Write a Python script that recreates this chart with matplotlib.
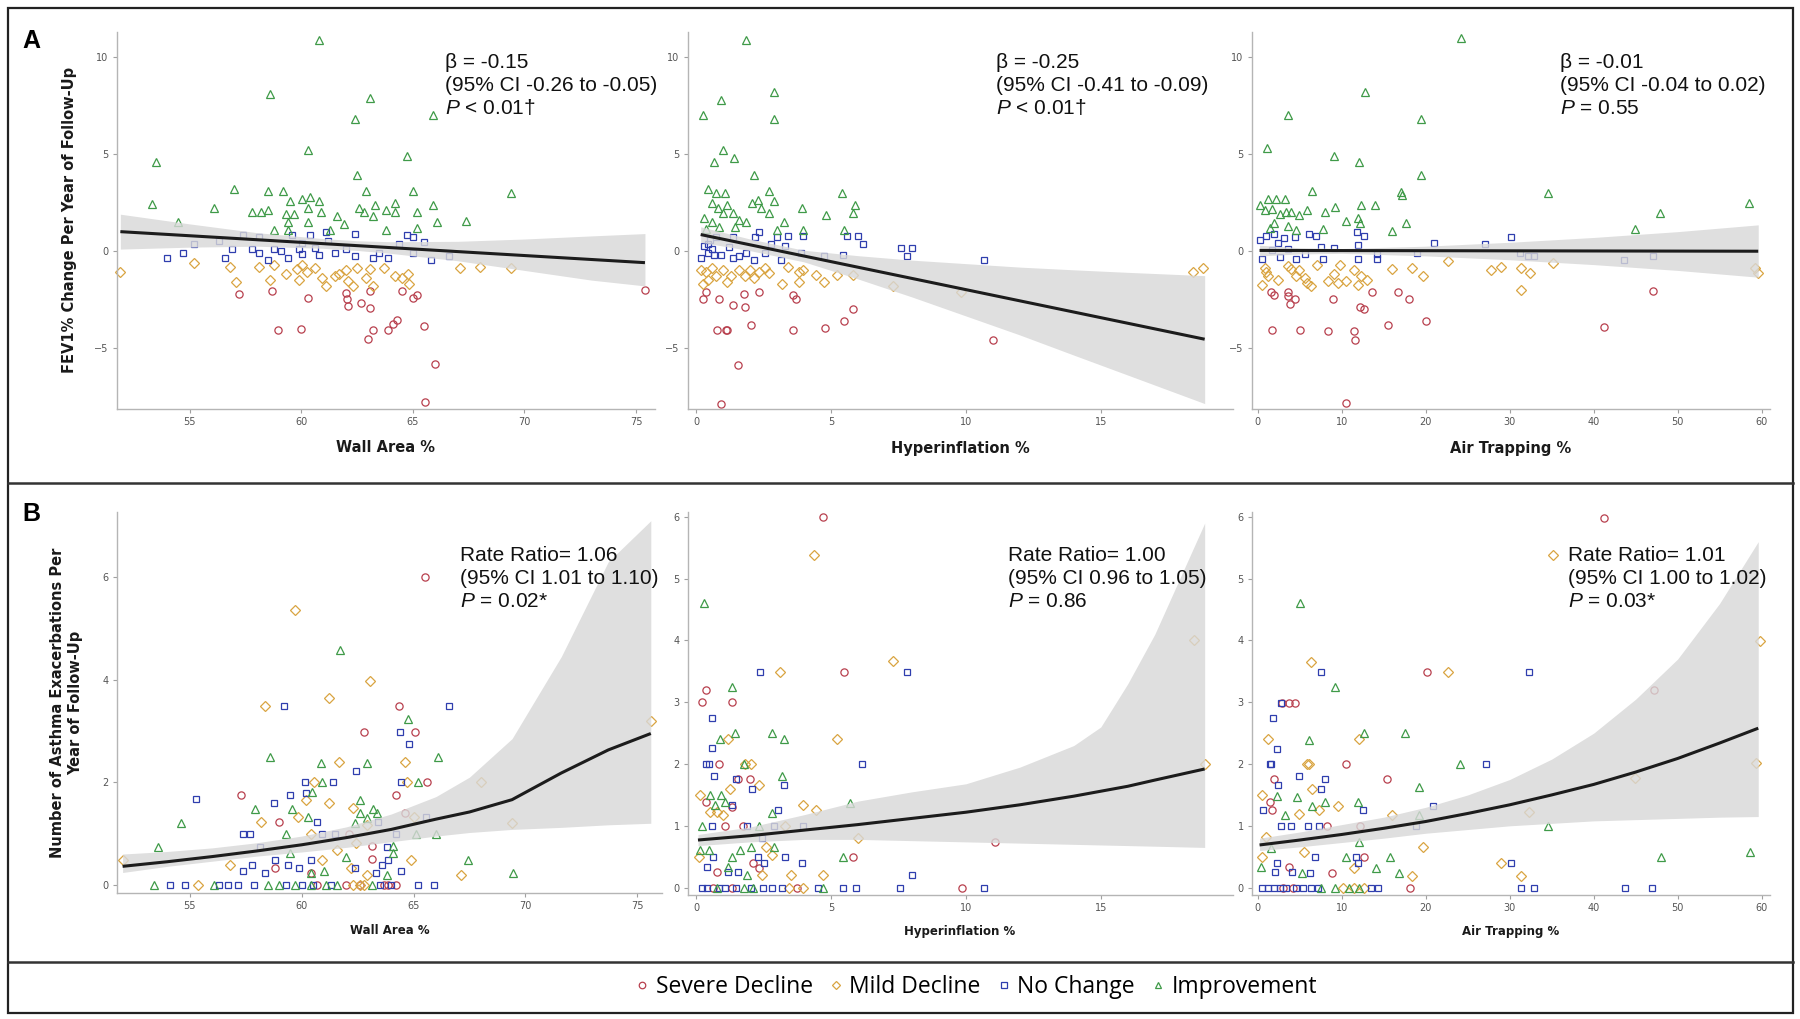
import matplotlib
matplotlib.use("Agg")
import matplotlib.pyplot as plt
from matplotlib.lines import Line2D
from matplotlib.patches import Rectangle

plt.rcParams['mathtext.fontset'] = 'custom'
plt.rcParams['mathtext.it'] = 'Liberation Sans:italic'
plt.rcParams['mathtext.rm'] = 'Liberation Sans'

# ---------------- DATA ----------------
categories = ["Severe Decline", "Mild Decline", "No Change", "Improvement"]

# Panel A1: Wall Area % vs FEV1% change
A1_severe = [(57.2,-2.2),(58.7,-2.05),(58.95,-4.05),(60.0,-4.0),(60.3,-2.4),(62.0,-2.15),(62.05,-2.45),(62.1,-2.85),
             (62.7,-2.7),(63.1,-2.95),(63.1,-2.05),(63.2,-4.1),(63.0,-4.55),(63.9,-4.05),(64.1,-3.75),(64.3,-3.55),
             (64.5,-2.05),(65.0,-2.4),(65.2,-2.25),(65.5,-3.85),(66.0,-5.85),(65.55,-7.8),(75.4,-2.0)]
A1_mild = [(51.9,-1.1),(55.2,-0.6),(56.8,-0.8),(57.1,-1.6),(58.1,-0.8),(58.6,-1.5),(58.8,-0.7),(59.8,-0.95),(59.9,-1.5),
           (60.05,-0.7),(60.25,-1.1),(60.6,-0.9),(60.95,-1.4),(61.1,-1.8),(61.5,-1.3),(62.0,-1.0),(62.1,-1.55),(62.3,-1.8),
           (62.5,-0.85),(62.9,-1.4),(63.1,-0.95),(63.2,-1.8),(63.7,-0.85),(64.2,-1.3),(64.5,-1.4),(64.8,-1.2),(64.85,-1.7),
           (67.1,-0.85),(68.0,-0.8),(69.4,-0.85),(59.3,-1.2),(61.7,-1.2)]
A1_nochange = [(54.0,-0.35),(54.7,-0.1),(55.2,0.35),(56.3,0.5),(56.6,-0.35),(56.9,0.1),(57.4,0.85),(57.8,0.1),(58.1,0.7),
               (58.1,-0.1),(58.5,-0.45),(58.8,0.1),(59.1,0.0),(59.4,-0.35),(59.6,0.85),(59.9,0.1),(60.05,-0.15),(60.4,0.85),
               (60.6,0.15),(60.8,-0.2),(61.1,1.0),(61.2,0.5),(61.5,-0.1),(62.0,0.1),(62.4,0.9),(62.4,-0.25),(63.2,-0.35),
               (63.5,-0.1),(63.9,-0.35),(64.4,0.35),(64.75,0.85),(65.0,-0.1),(65.5,0.45),(65.8,-0.45),(66.6,-0.25),
               (60.05,0.4),(65.0,0.7)]
A1_improve = [(60.8,10.9),(58.6,8.1),(63.1,7.9),(62.4,6.8),(65.9,7.0),(53.5,4.6),(60.3,5.2),(64.75,4.9),(53.3,2.45),
              (54.5,1.5),(56.1,2.2),(57.0,3.2),(58.5,3.1),(59.2,3.1),(59.5,2.6),(60.05,2.7),(60.4,2.8),(60.8,2.6),
              (60.3,2.2),(57.8,2.0),(58.2,2.0),(58.5,2.1),(59.3,1.9),(59.7,1.9),(60.9,2.0),(61.6,1.8),(62.5,3.9),
              (62.9,3.1),(63.3,2.4),(62.6,2.2),(62.8,2.0),(63.2,1.8),(63.8,2.1),(64.2,2.5),(64.2,2.0),(65.0,3.1),
              (65.2,2.0),(65.9,2.4),(66.1,1.5),(67.4,1.55),(69.4,3.0),(59.4,1.5),(60.3,1.5),(61.3,1.1),(61.9,1.4),
              (63.8,1.1),(65.2,1.2),(58.8,1.1),(59.4,1.1)]
A1_fit_x = [51.9, 75.4]
A1_fit_y = [1.0, -0.6]
A1_band_x = [51.9, 55, 58, 61, 62.5, 64, 67, 70, 73, 75.4]
A1_band_lo = [0.1, 0.2, 0.25, 0.14, 0.03, -0.12, -0.5, -1.0, -1.5, -1.8]
A1_band_hi = [1.9, 1.4, 0.95, 0.64, 0.53, 0.48, 0.5, 0.62, 0.78, 0.9]

# Panel A2: Hyperinflation % vs FEV1% change
A2_severe = [(0.24,-2.5),(0.38,-2.1),(0.85,-2.45),(0.76,-4.1),(1.1,-4.1),(1.15,-4.05),(1.37,-2.8),(1.54,-5.9),(0.92,-7.9),
             (1.76,-2.2),(1.8,-2.9),(2.04,-3.8),(2.32,-2.1),(3.6,-2.25),(3.7,-2.5),(3.6,-4.1),(4.76,-3.95),(5.5,-3.6),
             (5.8,-3.0),(11.0,-4.6)]
A2_mild = [(0.2,-1.0),(0.38,-1.06),(0.6,-0.9),(0.24,-1.7),(0.73,-1.3),(1.0,-1.0),(1.3,-1.3),(1.58,-1.0),(1.8,-1.3),
           (2.0,-1.0),(2.14,-1.4),(2.35,-1.06),(2.56,-0.9),(2.7,-1.15),(3.2,-1.7),(3.4,-0.8),(3.83,-1.06),(3.97,-1.0),
           (3.8,-1.6),(4.45,-1.24),(4.75,-1.6),(5.24,-1.24),(5.8,-1.24),(7.3,-1.8),(9.8,-2.1),(18.4,-1.1),(18.8,-0.85),
           (1.15,-1.6),(0.45,-1.5)]
A2_nochange = [(0.2,-0.35),(0.3,0.27),(0.45,-0.1),(0.6,0.1),(0.66,-0.2),(0.5,0.55),(0.73,0.7),(0.94,-0.2),(1.22,0.2),
               (1.37,0.7),(1.37,-0.35),(1.58,-0.27),(1.86,-0.1),(2.14,-0.45),(2.2,0.7),(2.35,1.0),(2.56,-0.1),(2.77,0.35),
               (2.99,0.7),(3.13,-0.45),(3.3,0.27),(3.4,0.8),(3.9,-0.1),(3.97,0.75),(4.75,-0.27),(5.45,-0.18),(5.6,0.8),
               (6.0,0.8),(6.2,0.35),(7.6,0.14),(8.0,0.14),(7.8,-0.27),(10.66,-0.45),(0.45,0.35)]
A2_improve = [(1.86,10.9),(2.87,8.2),(0.92,7.8),(0.27,7.0),(2.9,6.8),(1.0,5.2),(0.66,4.6),(1.4,4.8),(2.14,3.9),(2.7,3.1),
              (5.4,3.0),(0.45,3.2),(0.73,3.0),(1.08,3.0),(2.9,2.6),(5.9,2.35),(3.94,2.2),(0.6,2.5),(0.8,2.2),(1.15,2.4),
              (2.07,2.5),(2.3,2.65),(2.4,2.2),(2.7,1.95),(1.37,1.95),(1.0,1.95),(4.8,1.85),(5.8,1.95),(0.3,1.7),(0.6,1.5),
              (1.58,1.6),(1.86,1.5),(3.27,1.5),(0.85,1.25),(0.38,1.15),(2.99,1.06),(3.97,1.06),(5.5,1.06),(1.44,1.25)]
A2_fit_x = [0.17, 18.85]
A2_fit_y = [0.85, -4.55]
A2_band_x = [0.17, 2, 4, 6, 8, 10, 12, 14, 16, 18.85]
A2_band_lo = [0.45, 0.02, -0.56, -1.44, -2.37, -3.35, -4.33, -5.37, -6.4, -7.87]
A2_band_hi = [1.25, 0.62, 0.04, -0.24, -0.47, -0.65, -0.83, -0.97, -1.1, -1.27]

# Panel A3: Air Trapping % vs FEV1% change
A3_severe = [(1.6,-2.1),(1.9,-2.25),(1.7,-4.1),(3.55,-2.1),(3.6,-2.3),(3.8,-2.75),(4.4,-2.5),(5.0,-4.1),(8.3,-4.15),
             (8.9,-2.45),(11.5,-4.15),(11.6,-4.6),(10.5,-7.85),(12.2,-2.9),(12.7,-3.0),(13.6,-2.1),(15.5,-3.8),
             (16.7,-2.1),(18.0,-2.5),(20.0,-3.6),(41.2,-3.9),(47.1,-2.05)]
A3_mild = [(0.45,-1.75),(0.8,-0.85),(1.0,-1.1),(1.25,-1.3),(2.4,-1.5),(3.55,-0.75),(4.0,-0.95),(4.5,-1.3),(4.9,-1.0),
           (5.6,-1.4),(5.9,-1.65),(6.3,-1.8),(7.0,-0.7),(8.4,-1.55),(9.1,-1.2),(9.8,-0.7),(9.55,-1.65),(10.5,-1.55),
           (11.4,-1.0),(11.9,-1.75),(12.3,-1.3),(13.0,-1.5),(16.0,-0.95),(18.3,-0.9),(19.7,-1.3),(22.7,-0.5),
           (27.8,-1.0),(29.0,-0.8),(31.3,-0.9),(32.4,-1.15),(31.4,-2.0),(35.2,-0.6),(59.2,-0.85),(59.6,-1.15)]
A3_nochange = [(0.3,0.55),(0.55,-0.4),(1.0,0.75),(1.7,0.05),(1.9,0.9),(2.4,0.4),(2.6,-0.3),(3.1,0.65),(3.55,0.1),
               (4.4,0.7),(4.5,-0.4),(5.6,-0.15),(6.1,0.9),(6.9,0.8),(7.5,0.2),(7.7,-0.4),(9.1,0.17),(11.8,1.0),
               (11.9,0.3),(11.9,-0.4),(12.6,0.75),(14.2,-0.4),(14.2,-0.15),(21.0,0.4),(18.9,-0.1),(27.1,0.35),
               (30.2,0.7),(31.2,-0.1),(32.2,-0.25),(32.9,-0.25),(43.6,-0.45),(47.1,-0.25)]
A3_improve = [(24.2,11.0),(12.8,8.2),(3.6,7.0),(19.4,6.8),(1.1,5.3),(9.05,4.9),(12.1,4.6),(19.4,3.9),(6.5,3.1),
              (17.0,3.05),(17.2,2.9),(34.5,3.0),(58.5,2.5),(47.9,1.95),(44.9,1.15),(0.3,2.4),(1.25,2.7),(2.2,2.7),
              (3.2,2.7),(0.8,2.1),(1.7,2.15),(2.6,1.9),(3.3,2.0),(4.0,2.0),(4.9,1.85),(5.9,2.1),(7.95,2.0),(9.2,2.25),
              (12.3,2.4),(14.0,2.35),(11.9,1.7),(10.5,1.55),(17.6,1.45),(16.0,1.05),(12.2,1.45),(7.7,1.15),(4.6,1.1),
              (1.9,1.45),(1.5,1.2),(3.6,1.3)]
A3_fit_x = [0.2, 59.6]
A3_fit_y = [0.03, -0.01]
A3_band_x = [0.2, 5, 10, 20, 30, 40, 50, 59.6]
A3_band_lo = [-0.25, -0.15, -0.12, -0.25, -0.45, -0.7, -1.0, -1.35]
A3_band_hi = [0.3, 0.17, 0.13, 0.25, 0.45, 0.7, 1.0, 1.35]

# Panel B1: Wall Area % vs exacerbations
B1_severe = [(65.5,6.0),(57.3,1.75),(59.0,1.23),(62.8,2.97),(64.35,3.49),(65.05,2.97),(65.6,2.0),(64.2,1.75),(64.6,1.4),
             (58.8,0.32),(62.1,1.0),(63.15,0.75),(63.15,0.5),(60.4,0.23),(63.85,0.0),(62.6,0.0),(60.7,0.0),(62.0,0.0),
             (64.2,0.0),(63.7,0.0)]
B1_mild = [(59.7,5.36),(63.05,3.97),(61.2,3.64),(58.35,3.49),(61.65,2.39),(64.6,2.39),(60.55,2.0),(64.7,2.0),(60.2,1.66),
           (61.2,1.6),(62.3,1.5),(58.2,1.23),(59.85,1.33),(62.9,1.17),(65.0,1.33),(60.4,1.0),(61.6,0.68),(62.45,0.81),
           (52.0,0.49),(56.8,0.39),(60.9,0.49),(62.2,0.32),(64.9,0.49),(67.1,0.2),(62.9,0.2),(55.35,0.0),(68.0,2.0),
           (69.4,1.2),(62.6,0.0),(62.3,0.0),(62.8,0.0),(75.6,3.2)]
B1_nochange = [(59.2,3.49),(66.6,3.49),(64.4,2.97),(64.8,2.75),(62.45,2.22),(60.15,2.0),(61.4,2.0),(64.45,2.0),(55.3,1.67),
               (59.5,1.75),(60.2,1.79),(58.75,1.6),(60.7,1.23),(63.4,1.23),(65.55,1.33),(57.4,1.0),(57.7,1.0),(60.9,1.0),
               (61.5,1.0),(64.2,1.0),(58.15,0.73),(63.8,0.73),(58.8,0.49),(59.4,0.39),(60.4,0.49),(57.8,0.39),(57.4,0.26),
               (58.35,0.23),(59.9,0.32),(62.4,0.32),(63.6,0.39),(63.85,0.49),(64.45,0.26),(63.3,0.23),
               (54.1,0.0),(54.8,0.0),(56.3,0.0),(56.7,0.0),(57.15,0.0),(57.85,0.0),(59.3,0.0),(60.0,0.0),(60.5,0.0),
               (61.3,0.0),(63.5,0.0),(64.0,0.0),(65.2,0.0),(65.9,0.0)]
B1_improve = [(61.7,4.58),(64.75,3.23),(58.6,2.49),(60.85,2.38),(62.9,2.38),(66.1,2.49),(60.9,2.0),(65.2,2.0),(60.45,1.8),
              (57.9,1.48),(59.55,1.48),(62.6,1.66),(63.2,1.48),(60.3,1.33),(62.6,1.4),(62.9,1.3),(63.35,1.4),(54.6,1.2),
              (62.4,1.2),(59.3,1.0),(65.1,1.0),(66.0,1.0),(53.6,0.73),(59.5,0.62),(64.1,0.75),(64.1,0.62),(62.0,0.55),
              (61.0,0.26),(67.45,0.49),(69.45,0.23),(63.8,0.2),(60.4,0.23),
              (53.4,0.0),(56.1,0.0),(58.5,0.0),(59.0,0.0),(59.7,0.0),(60.4,0.0),(61.1,0.0),(61.6,0.0),(63.15,0.0)]
B1_fit_x = [52.0, 54, 56, 58, 60, 62, 64, 66, 67.5, 69.4, 71.6, 73.7, 75.6]
B1_fit_y = [0.36, 0.45, 0.55, 0.66, 0.78, 0.92, 1.08, 1.28, 1.42, 1.66, 2.18, 2.63, 2.95]
B1_band_lo = [0.24, 0.36, 0.46, 0.56, 0.64, 0.73, 0.84, 0.95, 1.02, 1.08, 1.12, 1.17, 1.2]
B1_band_hi = [0.6, 0.65, 0.72, 0.82, 0.95, 1.13, 1.38, 1.72, 2.1, 2.85, 4.45, 6.3, 7.1]

# Panel B2: Hyperinflation % vs exacerbations
B2_severe = [(4.72,6.0),(0.38,3.2),(0.21,3.0),(1.33,3.0),(5.5,3.49),(0.85,2.0),(1.55,1.76),(2.0,1.76),(0.35,1.39),
             (1.34,1.31),(1.06,1.0),(1.73,1.0),(2.12,0.39),(2.33,0.31),(0.78,0.26),(5.8,0.49),(11.07,0.74),(9.87,0.0),
             (3.74,0.0),(0.63,0.0),(1.34,0.0)]
B2_mild = [(4.37,5.39),(7.3,3.67),(3.12,3.49),(5.22,2.4),(1.17,2.4),(1.8,2.0),(2.05,2.0),(2.33,1.66),(1.27,1.6),
           (0.14,1.5),(3.95,1.33),(4.44,1.25),(0.5,1.23),(0.78,1.23),(0.99,1.18),(3.31,1.0),(6.0,0.8),(0.1,0.5),
           (2.6,0.66),(2.82,0.53),(3.5,0.2),(4.72,0.2),(2.44,0.2),(18.45,4.0),(18.85,2.0),(3.46,0.0),(3.95,0.0)]
B2_nochange = [(2.37,3.49),(7.8,3.49),(0.59,2.75),(0.6,2.26),(0.35,2.0),(0.49,2.0),(6.14,2.0),(0.66,1.81),(1.48,1.76),
               (2.09,1.6),(3.27,1.66),(1.34,1.33),(3.03,1.25),(0.6,1.0),(1.9,1.0),(2.89,1.0),(3.95,1.0),(2.44,0.8),
               (3.31,0.5),(2.3,0.5),(0.63,0.5),(2.5,0.39),(0.42,0.34),(3.92,0.39),(1.2,0.26),(1.55,0.26),(8.0,0.2),
               (0.21,0.0),(0.42,0.0),(0.85,0.0),(1.06,0.0),(1.48,0.0),(2.05,0.0),(2.47,0.0),(2.82,0.0),(3.17,0.0),
               (4.51,0.0),(5.43,0.0),(5.92,0.0),(7.57,0.0),(10.68,0.0)]
B2_improve = [(0.28,4.6),(1.34,3.24),(1.45,2.5),(2.82,2.5),(3.24,2.4),(0.89,2.4),(1.76,2.0),(3.17,1.8),(0.52,1.5),
              (0.92,1.5),(0.7,1.34),(1.06,1.39),(5.71,1.37),(2.82,1.2),(0.21,1.0),(2.33,1.0),(0.49,0.61),(0.14,0.61),
              (2.02,0.66),(1.62,0.61),(2.89,0.66),(1.34,0.5),(5.43,0.5),(1.9,0.2),(1.2,0.34),
              (0.78,0.0),(1.76,0.0),(4.72,0.0),(2.12,0.0)]
B2_fit_x = [0.07, 2, 4, 6, 8, 10, 12, 14, 15, 16, 17, 18.85]
B2_fit_y = [0.77, 0.84, 0.93, 1.02, 1.12, 1.22, 1.34, 1.48, 1.56, 1.64, 1.74, 1.92]
B2_band_lo = [0.68, 0.74, 0.78, 0.78, 0.76, 0.74, 0.72, 0.7, 0.69, 0.68, 0.67, 0.65]
B2_band_hi = [0.86, 0.98, 1.18, 1.4, 1.55, 1.68, 1.95, 2.3, 2.6, 3.3, 4.1, 5.9]

# Panel B3: Air Trapping % vs exacerbations
B3_severe = [(41.2,5.98),(20.1,3.49),(47.2,3.2),(2.9,2.99),(3.66,2.99),(4.44,2.99),(10.45,2.0),(15.4,1.75),(1.97,1.75),
             (1.47,1.39),(1.74,1.25),(8.25,0.99),(12.2,0.99),(3.66,0.34),(8.84,0.23),(12.7,0.49),(18.1,0.0),
             (3.0,0.0),(4.2,0.0)]
B3_mild = [(35.2,5.39),(6.28,3.65),(22.7,3.49),(1.15,2.4),(12.0,2.4),(5.86,2.0),(6.05,2.0),(6.4,1.59),(0.46,1.5),
           (9.6,1.32),(4.9,1.19),(7.33,1.25),(16.0,1.18),(32.3,1.23),(19.7,0.65),(0.92,0.82),(0.46,0.5),(5.5,0.58),
           (11.4,0.31),(18.3,0.19),(28.95,0.39),(31.3,0.19),(59.8,3.99),(59.3,2.01),(44.9,1.77),
           (10.1,0.0),(11.5,0.0),(12.6,0.0)]
B3_nochange = [(7.47,3.49),(32.3,3.49),(2.75,2.99),(1.83,2.75),(2.29,2.25),(1.47,2.0),(1.6,2.0),(27.2,2.0),(2.43,1.66),
               (4.9,1.8),(8.0,1.75),(7.56,1.59),(0.6,1.25),(12.5,1.25),(20.9,1.32),(2.75,0.99),(3.9,0.99),(5.96,0.99),
               (7.33,0.99),(18.8,0.99),(6.78,0.5),(11.7,0.5),(11.9,0.39),(2.29,0.39),(2.06,0.26),(4.1,0.26),(6.2,0.23),
               (30.2,0.39),(31.4,0.0),(32.9,0.0),(43.7,0.0),(47.0,0.0),
               (0.5,0.0),(1.2,0.0),(1.9,0.0),(2.6,0.0),(3.3,0.0),(4.5,0.0),(5.4,0.0),(6.3,0.0),(7.2,0.0),(13.5,0.0),(14.3,0.0)]
B3_improve = [(5.04,4.6),(9.16,3.24),(12.7,2.5),(17.5,2.5),(6.1,2.39),(24.1,2.0),(19.2,1.63),(2.29,1.48),(4.67,1.47),
              (8.0,1.39),(11.9,1.39),(6.4,1.32),(3.2,1.18),(19.2,1.18),(34.5,0.99),(12.1,0.73),(1.6,0.64),(10.5,0.5),
              (15.7,0.5),(48.0,0.5),(58.6,0.58),(0.32,0.34),(14.1,0.32),(16.8,0.23),(5.27,0.23),
              (7.56,0.0),(9.16,0.0),(10.8,0.0),(12.1,0.0)]
B3_fit_x = [0.2, 5, 10, 15, 20, 25, 30, 35, 40, 45, 50, 55, 59.6]
B3_fit_y = [0.69, 0.77, 0.86, 0.96, 1.07, 1.2, 1.34, 1.5, 1.67, 1.87, 2.09, 2.34, 2.58]
B3_band_lo = [0.6, 0.66, 0.73, 0.8, 0.88, 0.94, 1.0, 1.04, 1.08, 1.1, 1.12, 1.14, 1.15]
B3_band_hi = [0.8, 0.9, 1.02, 1.14, 1.3, 1.5, 1.75, 2.08, 2.5, 3.05, 3.7, 4.6, 5.6]

# annotation texts
A_stats = [["β = -0.15", "(95% CI -0.26 to -0.05)", "$P$ < 0.01†"],
           ["β = -0.25", "(95% CI -0.41 to -0.09)", "$P$ < 0.01†"],
           ["β = -0.01", "(95% CI -0.04 to 0.02)", "$P$ = 0.55"]]
B_stats = [["Rate Ratio= 1.06", "(95% CI 1.01 to 1.10)", "$P$ = 0.02*"],
           ["Rate Ratio= 1.00", "(95% CI 0.96 to 1.05)", "$P$ = 0.86"],
           ["Rate Ratio= 1.01", "(95% CI 1.00 to 1.02)", "$P$ = 0.03*"]]
x_labels = ["Wall Area %", "Hyperinflation %", "Air Trapping %"]
A_ylabel = "FEV1% Change Per Year of Follow-Up"
B_ylabel = "Number of Asthma Exacerbations Per\nYear of Follow-Up"

# ---------------- STYLE ----------------
W, H = 1800, 1019
colors = ["#B8404E", "#D9A441", "#2F3EAE", "#3F9A48"]
markers = ["o", "D", "s", "^"]
msizes = [5.2, 4.6, 5.0, 5.2]

fig = plt.figure(figsize=(18, 10.19), dpi=100)


def add_ax(x0, x1, y0, y1):
    return fig.add_axes([x0 / W, 1 - y1 / H, (x1 - x0) / W, (y1 - y0) / H])


def draw(ax, groups, fx, fy, bx, blo, bhi, xlim, ylim, xticks, yticks):
    for pts, c, m, s in zip(groups, colors, markers, msizes):
        xs = [p[0] for p in pts]
        ys = [p[1] for p in pts]
        ax.plot(xs, ys, ls="none", marker=m, ms=s, mfc="none", mec=c, mew=0.9, zorder=2, clip_on=False)
    ax.fill_between(bx, blo, bhi, color="#D8D8D8", alpha=0.82, lw=0, zorder=3)
    ax.plot(fx, fy, color="#1c1c1c", lw=2.2, zorder=4, solid_capstyle="butt")
    ax.set_xlim(*xlim)
    ax.set_ylim(*ylim)
    ax.set_xticks(xticks)
    ax.set_yticks(yticks)
    for sp in ["top", "right"]:
        ax.spines[sp].set_visible(False)
    for sp in ["left", "bottom"]:
        ax.spines[sp].set_color("#B5B5B5")
        ax.spines[sp].set_linewidth(1.0)
    ax.tick_params(length=3, width=0.8, color="#A0A0A0", labelsize=7, labelcolor="#555555", pad=3)
    ax.patch.set_alpha(0)


# Row A
axA1 = add_ax(117, 655, 32, 409)
draw(axA1, [A1_severe, A1_mild, A1_nochange, A1_improve], A1_fit_x, A1_fit_y,
     A1_band_x, A1_band_lo, A1_band_hi, (51.75, 75.85), (-8.15, 11.3), [55, 60, 65, 70, 75], [-5, 0, 5, 10])
axA2 = add_ax(688, 1233, 32, 409)
draw(axA2, [A2_severe, A2_mild, A2_nochange, A2_improve], A2_fit_x, A2_fit_y,
     A2_band_x, A2_band_lo, A2_band_hi, (-0.3, 19.9), (-8.15, 11.3), [0, 5, 10, 15], [-5, 0, 5, 10])
axA3 = add_ax(1252, 1770, 32, 409)
draw(axA3, [A3_severe, A3_mild, A3_nochange, A3_improve], A3_fit_x, A3_fit_y,
     A3_band_x, A3_band_lo, A3_band_hi, (-0.7, 61.0), (-8.15, 11.3), [0, 10, 20, 30, 40, 50, 60], [-5, 0, 5, 10])

# Row B
axB1 = add_ax(117, 662, 512, 893)
draw(axB1, [B1_severe, B1_mild, B1_nochange, B1_improve], B1_fit_x, B1_fit_y,
     B1_fit_x, B1_band_lo, B1_band_hi, (51.75, 76.1), (-0.16, 7.27), [55, 60, 65, 70, 75], [0, 2, 4, 6])
axB2 = add_ax(688, 1233, 512, 895)
draw(axB2, [B2_severe, B2_mild, B2_nochange, B2_improve], B2_fit_x, B2_fit_y,
     B2_fit_x, B2_band_lo, B2_band_hi, (-0.3, 19.9), (-0.12, 6.08), [0, 5, 10, 15], [0, 1, 2, 3, 4, 5, 6])
axB3 = add_ax(1252, 1770, 512, 895)
draw(axB3, [B3_severe, B3_mild, B3_nochange, B3_improve], B3_fit_x, B3_fit_y,
     B3_fit_x, B3_band_lo, B3_band_hi, (-0.7, 61.0), (-0.12, 6.08), [0, 10, 20, 30, 40, 50, 60], [0, 1, 2, 3, 4, 5, 6])

# axis labels
A_label_x = [386, 960, 1511]
B_label_x = [390, 960, 1511]
for i in range(3):
    fig.text(A_label_x[i] / W, 1 - 448 / H, x_labels[i], ha="center", va="center",
             fontsize=10.5, fontweight="bold", color="#1a1a1a")
    fig.text(B_label_x[i] / W, 1 - 931 / H, x_labels[i], ha="center", va="center",
             fontsize=8.5, fontweight="bold", color="#1a1a1a")
fig.text(70 / W, 1 - 220 / H, A_ylabel, rotation=90, ha="center", va="center",
         fontsize=10.5, fontweight="bold", color="#1a1a1a")
fig.text(67 / W, 1 - 703 / H, B_ylabel, rotation=90, ha="center", va="center", multialignment="center",
         fontsize=10.5, fontweight="bold", color="#1a1a1a", linespacing=1.25)

# stats annotations
A_text_x = [445, 996, 1560]
B_text_x = [460, 1008, 1568]
A_base = [68, 91, 114]
B_base = [561, 584, 607]
for i in range(3):
    for j in range(3):
        fig.text(A_text_x[i] / W, 1 - A_base[j] / H, A_stats[i][j], ha="left", va="baseline",
                 fontsize=15, family="Liberation Sans", color="#111111")
        fig.text(B_text_x[i] / W, 1 - B_base[j] / H, B_stats[i][j], ha="left", va="baseline",
                 fontsize=15, family="Liberation Sans", color="#111111")

# panel letters
fig.text(31 / W, 1 - 41 / H, "A", fontsize=18, fontweight="bold", ha="center", va="center", family="Liberation Sans")
fig.text(31 / W, 1 - 514 / H, "B", fontsize=18, fontweight="bold", ha="center", va="center", family="Liberation Sans")

# frame and dividers
fig.add_artist(Rectangle((8 / W, 1 - 1013 / H), (1793 - 8) / W, (1013 - 8) / H, transform=fig.transFigure,
                         fill=False, ec="#222222", lw=1.6))
for yy in [483, 962]:
    fig.add_artist(Line2D([8 / W, 1793 / W], [1 - yy / H, 1 - yy / H], transform=fig.transFigure,
                          color="#333333", lw=1.8))

# legend
handles = [Line2D([], [], ls="none", marker=m, ms=s * 0.9, mfc="none", mec=c, mew=0.9)
           for c, m, s in zip(colors, markers, msizes)]
fig.legend(handles, categories, loc="center", bbox_to_anchor=(975 / W, 1 - 987 / H), ncol=4, frameon=False,
           prop={"family": "Open Sans", "size": 16.5}, handletextpad=0.2, columnspacing=0.6, handlelength=0.8,
           borderaxespad=0)

fig.savefig("out.png", dpi=100)
